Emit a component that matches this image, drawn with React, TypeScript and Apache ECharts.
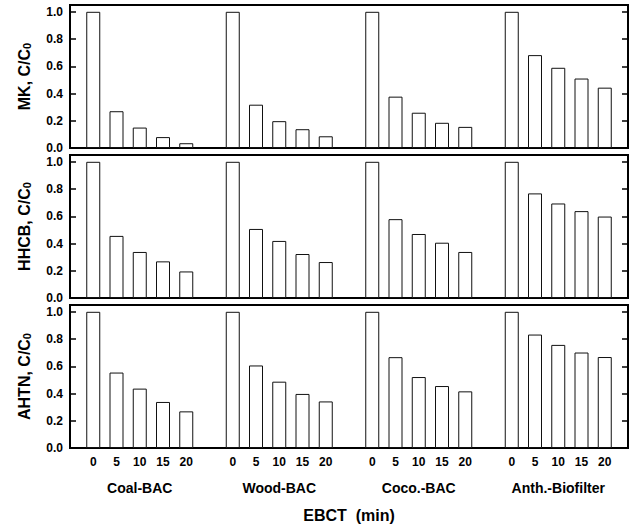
import React, { useEffect, useRef } from "react";
import * as echarts from "echarts";

const groups = ["Coal-BAC", "Wood-BAC", "Coco.-BAC", "Anth.-Biofilter"];
const ebct = ["0", "5", "10", "15", "20"];
const panelTitles = ["MK", "HHCB", "AHTN"];

// values per panel, per group (EBCT 0,5,10,15,20)
const mkValues = [
  [1.0, 0.27, 0.15, 0.08, 0.035],
  [1.0, 0.318, 0.197, 0.138, 0.086],
  [1.0, 0.377, 0.259, 0.185, 0.155],
  [1.0, 0.682, 0.589, 0.51, 0.443],
];
const hhcbValues = [
  [1.0, 0.456, 0.338, 0.269, 0.195],
  [1.0, 0.507, 0.419, 0.323, 0.264],
  [1.0, 0.579, 0.47, 0.406, 0.338],
  [1.0, 0.768, 0.694, 0.638, 0.598],
];
const ahtnValues = [
  [1.0, 0.554, 0.436, 0.338, 0.269],
  [1.0, 0.606, 0.487, 0.397, 0.342],
  [1.0, 0.667, 0.521, 0.455, 0.416],
  [1.0, 0.833, 0.757, 0.701, 0.668],
];
const yTicks = [0, 0.2, 0.4, 0.6, 0.8, 1.0];

const FONT = '"Liberation Sans", Arial, Helvetica, sans-serif';

function buildSlots<T>(perGroup: T[][], empty: T): T[] {
  const out: T[] = [empty];
  perGroup.forEach((g) => {
    out.push(...g);
    out.push(empty);
  });
  return out;
}

export default function App() {
  const ref = useRef<HTMLDivElement>(null);
  useEffect(() => {
    if (!ref.current) return;
    const chart = echarts.init(ref.current, undefined, { renderer: "svg" });
    const panels = [mkValues, hhcbValues, ahtnValues];
    const tops = [5, 155, 305];
    const H = 143;
    const left = 70;
    const W = 558;

    const tickCats = buildSlots(groups.map(() => ebct), "");
    const groupCats = buildSlots(
      groups.map((g) => ["", "", g, "", ""]),
      ""
    );

    const grid = tops.map((t) => ({
      left,
      top: t,
      width: W,
      height: H,
      show: true,
      borderColor: "#000",
      borderWidth: 2,
      backgroundColor: "transparent",
    }));

    const xAxis: any[] = [];
    panels.forEach((_, i) => {
      xAxis.push({
        type: "category",
        gridIndex: i,
        data: tickCats,
        boundaryGap: false,
        axisLine: { show: false },
        axisTick: { show: false },
        axisLabel: {
          show: i === 2,
          interval: 0,
          margin: 8,
          color: "#000",
          fontSize: 12,
          fontWeight: "bold",
          fontFamily: FONT,
        },
        splitLine: { show: false },
      });
    });
    xAxis.push({
      type: "category",
      gridIndex: 2,
      position: "bottom",
      data: groupCats,
      boundaryGap: false,
      axisLine: { show: false },
      axisTick: { show: false },
      axisLabel: {
        interval: 0,
        margin: 33,
        color: "#000",
        fontSize: 14,
        fontWeight: "bold",
        fontFamily: FONT,
      },
      name: "EBCT  (min)",
      nameLocation: "middle",
      nameGap: 59,
      nameTextStyle: {
        color: "#000",
        fontSize: 16,
        fontWeight: "bold",
        fontFamily: FONT,
      },
      splitLine: { show: false },
    });

    const yAxis: any[] = [];
    panels.forEach((_, i) => {
      const base = {
        type: "value",
        gridIndex: i,
        min: 0,
        max: 1.05,
        interval: 0.2,
        splitLine: { show: false },
        axisLine: { show: true, lineStyle: { color: "#000", width: 2 } },
        axisTick: {
          show: true,
          inside: true,
          length: 6,
          lineStyle: { color: "#000", width: 1.5 },
        },
      };
      yAxis.push({
        ...base,
        position: "left",
        axisLabel: {
          show: true,
          margin: 7,
          color: "#000",
          fontSize: 12,
          fontWeight: "bold",
          fontFamily: FONT,
          showMaxLabel: false,
          formatter: (v: number) =>
            yTicks.some((t) => Math.abs(t - v) < 1e-6) ? v.toFixed(1) : "",
        },
      });
      yAxis.push({
        ...base,
        position: "right",
        axisLabel: { show: false },
      });
    });

    const series = panels.map((p, i) => ({
      type: "bar",
      xAxisIndex: i,
      yAxisIndex: i * 2,
      data: buildSlots(p, null as any),
      barWidth: 14,
      itemStyle: { color: "#fff", borderColor: "#111", borderWidth: 1 },
      silent: true,
    }));

    const graphic = panelTitles.map((t, i) => ({
      type: "text",
      x: 24,
      y: tops[i] + H / 2,
      rotation: Math.PI / 2,
      style: {
        text: `{a|${t}, C/C}{b|0}`,
        align: "center",
        verticalAlign: "middle",
        fill: "#000",
        rich: {
          a: {
            fontSize: 16,
            fontWeight: "bold",
            fontFamily: FONT,
            fill: "#000",
          },
          b: {
            fontSize: 11,
            fontWeight: "bold",
            fontFamily: FONT,
            fill: "#000",
            verticalAlign: "bottom",
            padding: [6, 0, 0, 0],
          },
        },
      },
    }));

    chart.setOption({
      animation: false,
      backgroundColor: "#fff",
      grid,
      xAxis,
      yAxis,
      series,
      graphic,
    });
    return () => chart.dispose();
  }, []);
  return (
    <div
      ref={ref}
      style={{ position: "absolute", left: 0, top: 0, width: 632, height: 527 }}
    />
  );
}
